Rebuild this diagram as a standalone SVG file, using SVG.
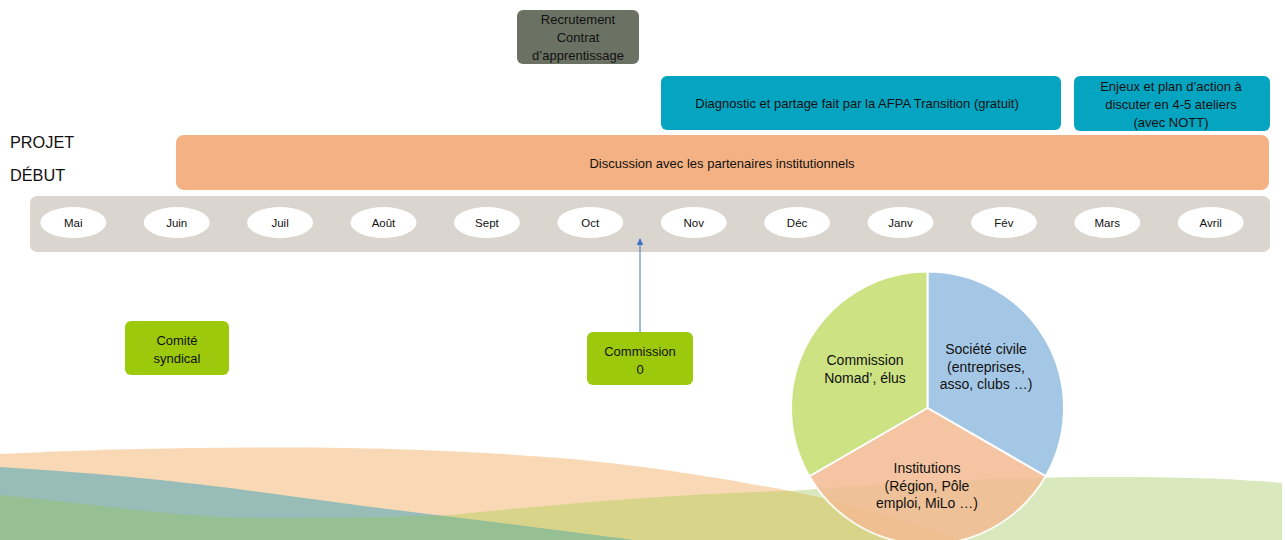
<svg xmlns="http://www.w3.org/2000/svg" width="1285" height="540" viewBox="0 0 1285 540">
  <defs>
    <style>
      text { font-family: "Liberation Sans", Arial, sans-serif; fill: #111; text-anchor: middle; }
      .box { font-size: 13px; }
      .month { font-size: 11.5px; }
      .pie { font-size: 14px; }
      .big { font-size: 16.3px; text-anchor: start; }
      .ell { fill: #ffffff; }
      .green { fill: #9cc90c; }
      .teal { fill: #05a4c1; }
      .slice { stroke: #ffffff; stroke-width: 2; opacity: 0.85; }
    </style>
    <marker id="arrow" viewBox="0 0 10 10" refX="9" refY="5" markerWidth="7" markerHeight="7" orient="auto">
      <path d="M0,0 L10,5 L0,10 Z" fill="#4472c4"/>
    </marker>
    <clipPath id="clipA">
      <path d="M0,454 C100,449 200,447 300,447.5 C400,448 480,452 560,458 C650,466 720,478 790,491 C860,505 920,525 960,540 L0,540 Z"/>
    </clipPath>
    <clipPath id="clipC">
      <path d="M0,467 C50,470 100,474 140,478 C200,484 230,488 260,492 C320,500 370,507 420,513 C500,523 570,532 633,540 L0,540 Z"/>
    </clipPath>
  </defs>

  <rect x="0" y="0" width="1285" height="540" fill="#ffffff"/>

  <!-- background waves -->
  <g id="waves">
    <path id="waveB" d="M0,495 C90,503 180,518 260,518 C340,518 400,517 450,515 C600,500 700,493 790,491 C900,482 1000,477 1113,477 C1200,477 1250,480 1282,483 L1282,540 L0,540 Z" fill="#d9e8bd"/>
    <path d="M0,454 C100,449 200,447 300,447.5 C400,448 480,452 560,458 C650,466 720,478 790,491 C860,505 920,525 960,540 L0,540 Z" fill="#f9d9b5"/>
    <path d="M0,495 C90,503 180,518 260,518 C340,518 400,517 450,515 C600,500 700,493 790,491 C900,482 1000,477 1113,477 C1200,477 1250,480 1282,483 L1282,540 L0,540 Z" fill="#d8d48a" clip-path="url(#clipA)"/>
    <path d="M0,467 C50,470 100,474 140,478 C200,484 230,488 260,492 C320,500 370,507 420,513 C500,523 570,532 633,540 L0,540 Z" fill="#98bdb8"/>
    <path d="M0,495 C90,503 180,518 260,518 C340,518 400,517 450,515 C600,500 700,493 790,491 C900,482 1000,477 1113,477 C1200,477 1250,480 1282,483 L1282,540 L0,540 Z" fill="#96bf94" clip-path="url(#clipC)"/>
  </g>

  <!-- labels -->
  <g id="labels">
    <text class="big" x="10" y="148">PROJET</text>
    <text class="big" x="10" y="181">DÉBUT</text>
  </g>

  <g id="recrutement">
    <rect x="517" y="10" width="122" height="54" rx="6" fill="#6c7263"/>
    <text class="box" x="578" y="24">Recrutement</text>
    <text class="box" x="578" y="42">Contrat</text>
    <text class="box" x="578" y="60" font-size="12.3">d’apprentissage</text>
  </g>

  <g id="diagnostic">
    <rect class="teal" x="661" y="76" width="400" height="54" rx="6"/>
    <text class="box" x="857" y="107.5" font-size="12.6">Diagnostic et partage fait par la AFPA Transition (gratuit)</text>
  </g>

  <g id="enjeux">
    <rect class="teal" x="1074" y="76" width="196" height="55" rx="6"/>
    <text class="box" x="1171" y="91">Enjeux et plan d’action à</text>
    <text class="box" x="1171" y="109">discuter en 4-5 ateliers</text>
    <text class="box" x="1171" y="127">(avec NOTT)</text>
  </g>

  <g id="discussion">
    <rect x="176" y="135" width="1093" height="55" rx="8" fill="#f4b183"/>
    <text class="box" x="722" y="168">Discussion avec les partenaires institutionnels</text>
  </g>

  <g id="timeline">
    <rect x="30" y="196" width="1240" height="56" rx="7" fill="#dad5cf"/>
    <g id="m-mai"><ellipse class="ell" cx="73.3" cy="222.5" rx="33" ry="15.5"/><text class="month" x="73.3" y="226.5">Mai</text></g>
    <g id="m-juin"><ellipse class="ell" cx="176.7" cy="222.5" rx="33" ry="15.5"/><text class="month" x="176.7" y="226.5">Juin</text></g>
    <g id="m-juil"><ellipse class="ell" cx="280.1" cy="222.5" rx="33" ry="15.5"/><text class="month" x="280.1" y="226.5">Juil</text></g>
    <g id="m-aout"><ellipse class="ell" cx="383.5" cy="222.5" rx="33" ry="15.5"/><text class="month" x="383.5" y="226.5">Août</text></g>
    <g id="m-sept"><ellipse class="ell" cx="486.9" cy="222.5" rx="33" ry="15.5"/><text class="month" x="486.9" y="226.5">Sept</text></g>
    <g id="m-oct"><ellipse class="ell" cx="590.3" cy="222.5" rx="33" ry="15.5"/><text class="month" x="590.3" y="226.5">Oct</text></g>
    <g id="m-nov"><ellipse class="ell" cx="693.7" cy="222.5" rx="33" ry="15.5"/><text class="month" x="693.7" y="226.5">Nov</text></g>
    <g id="m-dec"><ellipse class="ell" cx="797.1" cy="222.5" rx="33" ry="15.5"/><text class="month" x="797.1" y="226.5">Déc</text></g>
    <g id="m-janv"><ellipse class="ell" cx="900.5" cy="222.5" rx="33" ry="15.5"/><text class="month" x="900.5" y="226.5">Janv</text></g>
    <g id="m-fev"><ellipse class="ell" cx="1003.9" cy="222.5" rx="33" ry="15.5"/><text class="month" x="1003.9" y="226.5">Fév</text></g>
    <g id="m-mars"><ellipse class="ell" cx="1107.3" cy="222.5" rx="33" ry="15.5"/><text class="month" x="1107.3" y="226.5">Mars</text></g>
    <g id="m-avril"><ellipse class="ell" cx="1210.7" cy="222.5" rx="33" ry="15.5"/><text class="month" x="1210.7" y="226.5">Avril</text></g>
  </g>

  <g id="comite">
    <rect class="green" x="125" y="321" width="104" height="54" rx="6"/>
    <text class="box" x="177" y="345">Comité</text>
    <text class="box" x="177" y="363">syndical</text>
  </g>

  <g id="commission0">
    <rect class="green" x="587" y="332" width="106" height="53" rx="6"/>
    <text class="box" x="640" y="356">Commission</text>
    <text class="box" x="640" y="374">0</text>
  </g>

  <g id="connectors">
    <line x1="640" y1="332" x2="640" y2="239" stroke="#4472c4" stroke-width="1" marker-end="url(#arrow)"/>
  </g>

  <g id="pie">
    <path class="slice" d="M927.5,408 L927.5,271.5 A136.5,136.5 0 0 1 1045.7,476.25 Z" fill="#95bee2"/>
    <path class="slice" d="M927.5,408 L1045.7,476.25 A136.5,136.5 0 0 1 809.3,476.25 Z" fill="#f4bb93"/>
    <path class="slice" d="M927.5,408 L809.3,476.25 A136.5,136.5 0 0 1 927.5,271.5 Z" fill="#c4de6e"/>
    <text class="pie" x="865" y="365">Commission</text>
    <text class="pie" x="865" y="383">Nomad’, élus</text>
    <text class="pie" x="986" y="354">Société civile</text>
    <text class="pie" x="986" y="372">(entreprises,</text>
    <text class="pie" x="986" y="389">asso, clubs …)</text>
    <text class="pie" x="927" y="473">Institutions</text>
    <text class="pie" x="927" y="491">(Région, Pôle</text>
    <text class="pie" x="927" y="508">emploi, MiLo …)</text>
  </g>
</svg>
